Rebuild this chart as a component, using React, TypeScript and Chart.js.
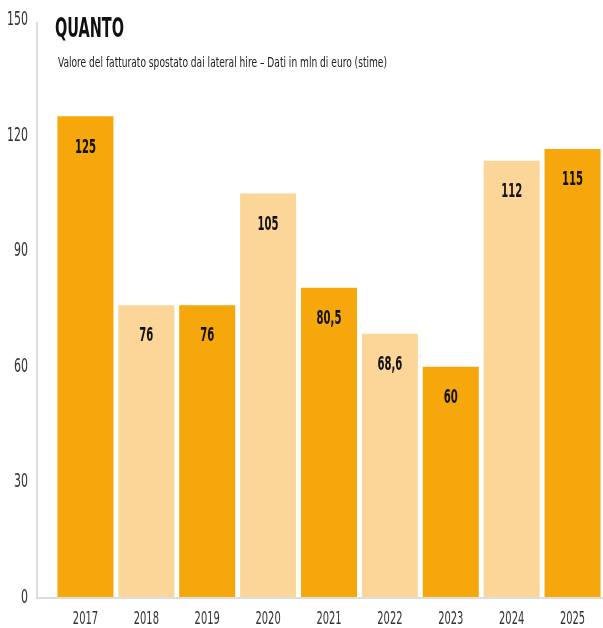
import React, { useEffect, useRef } from "react";
import { Chart, registerables } from "chart.js";

Chart.register(...registerables);

const categories = ["2017", "2018", "2019", "2020", "2021", "2022", "2023", "2024", "2025"];
const barHeights = [125, 76, 76, 105, 80.5, 68.6, 60, 113.5, 116.5];
const barLabels = ["125", "76", "76", "105", "80,5", "68,6", "60", "112", "115"];
const yTicks = [0, 30, 60, 90, 120, 150];
const titleText = "QUANTO";
const subtitleText = "Valore del fatturato spostato dai lateral hire \u2013 Dati in mln di euro (stime)";

const DARK = "#F6A70B";
const LIGHT = "#FCD699";
const FAMILY = "'DejaVu Sans', sans-serif";

// draw horizontally compressed text to mimic a narrow display face
function narrow(
  ctx: CanvasRenderingContext2D,
  text: string,
  x: number,
  y: number,
  font: string,
  scaleX: number,
  align: CanvasTextAlign,
  baseline: CanvasTextBaseline,
  color: string
) {
  ctx.save();
  ctx.font = font;
  ctx.fillStyle = color;
  ctx.textAlign = align;
  ctx.textBaseline = baseline;
  ctx.translate(x, y);
  ctx.scale(scaleX, 1);
  ctx.fillText(text, 0, 0);
  ctx.restore();
}

function digitScale(ctx: CanvasRenderingContext2D, font: string, digitW: number) {
  ctx.save();
  ctx.font = font;
  const w = ctx.measureText("0").width;
  ctx.restore();
  return digitW / w;
}

function widthScale(ctx: CanvasRenderingContext2D, font: string, text: string, target: number) {
  ctx.save();
  ctx.font = font;
  const w = ctx.measureText(text).width;
  ctx.restore();
  return target / w;
}

const overlay = {
  id: "overlay",
  afterDraw(chart: any) {
    const ctx = chart.ctx as CanvasRenderingContext2D;
    const area = chart.chartArea;
    const meta = chart.getDatasetMeta(0);
    const xs = chart.scales.x;
    const ys = chart.scales.y;
    ctx.save();
    ctx.strokeStyle = "#dddddd";
    ctx.lineWidth = 2;
    ctx.beginPath();
    ctx.moveTo(37, 22);
    ctx.lineTo(37, area.bottom);
    ctx.lineTo(chart.width, area.bottom);
    ctx.stroke();
    ctx.restore();

    const tFont = "bold condensed 27px " + FAMILY;
    narrow(ctx, titleText, 55, 37, tFont, widthScale(ctx, tFont, titleText, 69), "left", "alphabetic", "#111");
    const sFont = "condensed 13.5px " + FAMILY;
    narrow(ctx, subtitleText, 58, 67, sFont, widthScale(ctx, sFont, subtitleText, 329), "left", "alphabetic", "#222");

    const yFont = "condensed 19px " + FAMILY;
    const ySc = digitScale(ctx, yFont, 7);
    ys.ticks.forEach((t: any) => {
      narrow(ctx, String(t.value), 28, ys.getPixelForValue(t.value), yFont, ySc, "right", "middle", "#333");
    });

    const xFont = "condensed 18px " + FAMILY;
    const xSc = digitScale(ctx, xFont, 6.3);
    categories.forEach((c, i) => {
      narrow(ctx, c, xs.getPixelForValue(i), 619, xFont, xSc, "center", "middle", "#333");
    });

    const bFont = "bold condensed 20px " + FAMILY;
    const bSc = digitScale(ctx, bFont, 7);
    meta.data.forEach((bar: any, i: number) => {
      narrow(ctx, barLabels[i], bar.x, bar.y + 31, bFont, bSc, "center", "middle", "#111");
    });
  },
};

export default function App() {
  const ref = useRef<HTMLCanvasElement | null>(null);
  useEffect(() => {
    if (!ref.current) return;
    const chart = new Chart(ref.current, {
      type: "bar",
      data: {
        labels: categories,
        datasets: [
          {
            data: barHeights,
            backgroundColor: categories.map((_, i) => (i % 2 === 0 ? DARK : LIGHT)),
            barPercentage: 0.92,
            categoryPercentage: 1,
            borderWidth: 0,
          },
        ],
      },
      options: {
        animation: false,
        responsive: false,
        maintainAspectRatio: false,
        layout: { padding: { top: 20, right: 0, left: 0, bottom: 0 } },
        plugins: { legend: { display: false }, tooltip: { enabled: false } },
        scales: {
          x: {
            grid: { display: false, drawTicks: false },
            border: { display: false },
            ticks: { display: false },
            afterFit: (s: any) => { s.height = 30; s.paddingLeft = 0; s.paddingRight = 0; },
          },
          y: {
            min: 0,
            max: 150,
            afterBuildTicks: (s: any) => { s.ticks = yTicks.map((v) => ({ value: v })); },
            grid: { display: false, drawTicks: false },
            border: { display: false },
            ticks: { display: false },
            afterFit: (s: any) => { s.width = 55; s.paddingTop = 0; s.paddingBottom = 0; },
          },
        },
      },
      plugins: [overlay],
    });
    return () => chart.destroy();
  }, []);
  return (
    <div style={{ position: "absolute", left: 0, top: 0, width: 603, height: 628, background: "#fff" }}>
      <canvas ref={ref} width={603} height={628} style={{ width: 603, height: 628 }} />
    </div>
  );
}
